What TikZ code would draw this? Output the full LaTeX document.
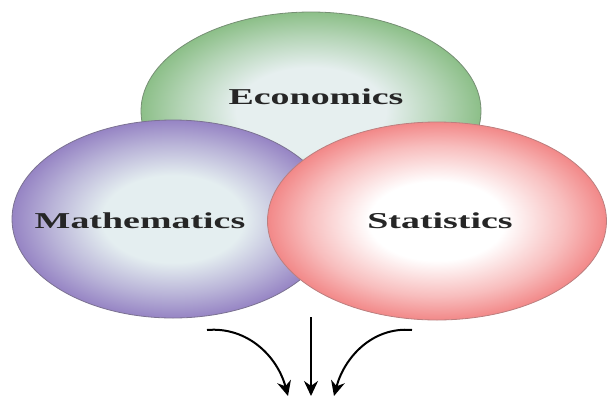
\documentclass[tikz,border=0pt]{standalone}
\usepackage{fontspec}
\setmainfont{Liberation Serif}
\usetikzlibrary{shapes.geometric,arrows.meta}
\definecolor{econout}{HTML}{8CBF88}
\definecolor{econin}{HTML}{E6EFEF}
\definecolor{mathout}{HTML}{9684C4}
\definecolor{mathin}{HTML}{E4EEF0}
\definecolor{statout}{HTML}{F28888}
\definecolor{statin}{HTML}{FFFFFF}
\pgfdeclareradialshading{econshade}{\pgfpoint{0bp}{0bp}}{color(0bp)=(econin); color(11bp)=(econin); color(19bp)=(econout!55!econin); color(25bp)=(econout); color(50bp)=(econout)}
\pgfdeclareradialshading{mathshade}{\pgfpoint{0bp}{0bp}}{color(0bp)=(mathin); color(11bp)=(mathin); color(19bp)=(mathout!55!mathin); color(25bp)=(mathout); color(50bp)=(mathout)}
\pgfdeclareradialshading{statshade}{\pgfpoint{0bp}{0bp}}{color(0bp)=(statin); color(10bp)=(statin); color(19bp)=(statout!55!statin); color(25bp)=(statout); color(50bp)=(statout)}
\tikzset{
  field/.style={ellipse, minimum height=198pt, inner sep=0pt, line width=0.8pt},
  fieldname/.style={font=\bfseries\fontsize{22.7}{24}\selectfont, text=black!85},
  flow/.style={line width=2pt, -{Stealth[length=15pt,width=14pt]}}
}
\newcommand{\wide}[1]{\scalebox{1.67}[1]{#1}}

\begin{document}
\begin{tikzpicture}[x=1pt,y=-1pt]
    \useasboundingbox (0,0) rectangle (608,397);

    % the three fields
    \node[field, minimum width=340pt, draw=econout!60!black!80,
          shading=econshade] (econ) at (311,111) {};
    \node[field, minimum width=322pt, draw=mathout!60!black!80,
          shading=mathshade] (math) at (173,219) {};
    \node[field, minimum width=339pt, draw=statout!70!black!80,
          shading=statshade] (stat) at (437,221) {};

    \node[fieldname] (econname) at (316,97) {\wide{Economics}};
    \node[fieldname] (mathname) at (140,221) {\wide{Mathematics}};
    \node[fieldname] (statname) at (440,221) {\wide{Statistics}};

    % arrows below
    \coordinate (lfrom) at (207,330);
    \coordinate (lto)   at (288,396);
    \coordinate (mfrom) at (311,317);
    \coordinate (mto)   at (311,396);
    \coordinate (rfrom) at (412,330);
    \coordinate (rto)   at (334,396);

    \draw[flow] (lfrom) to[out=5, in=105] (lto);
    \draw[flow] (mfrom) -- (mto);
    \draw[flow] (rfrom) to[out=175, in=75] (rto);
\end{tikzpicture}
\end{document}
